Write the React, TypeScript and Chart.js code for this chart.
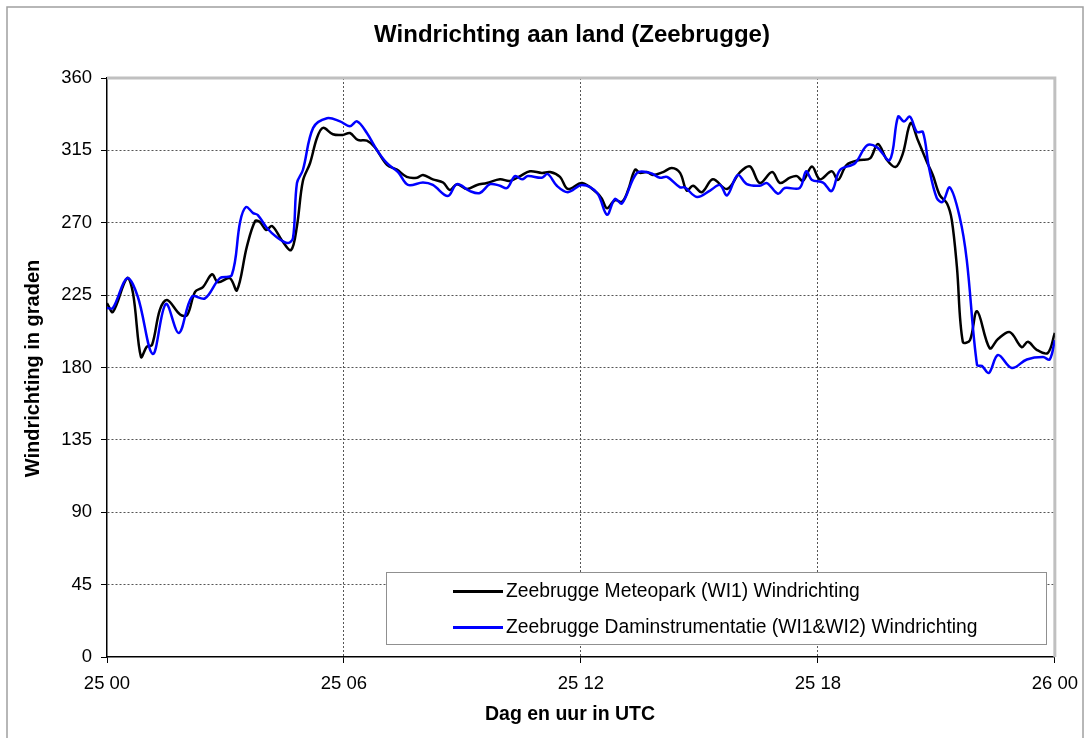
import React, { useEffect, useRef } from "react";
import { Chart, registerables } from "chart.js";

Chart.register(...registerables);

const chartTitle = "Windrichting aan land (Zeebrugge)";
const xAxisTitle = "Dag en uur in UTC";
const yAxisTitle = "Windrichting in graden";
const xTickLabels = ["25 00", "25 06", "25 12", "25 18", "26 00"];
const seriesNames = [
  "Zeebrugge Meteopark (WI1) Windrichting",
  "Zeebrugge Daminstrumentatie (WI1&WI2) Windrichting",
];

const meteoparkHours = [
  0.0, 0.15, 0.51, 0.66, 0.86, 1.01, 1.14, 1.34, 1.52, 1.85,
  2.03, 2.23, 2.43, 2.66, 2.81, 3.11, 3.29, 3.54, 3.75, 3.87,
  4.03, 4.18, 4.43, 4.66, 4.81, 4.96, 5.14, 5.32, 5.47, 5.72, 5.97,
  6.15, 6.35, 6.58, 6.78, 7.09, 7.34, 7.59, 7.85, 8.0, 8.25,
  8.51, 8.68, 8.86, 9.11, 9.37, 9.62, 9.95, 10.2, 10.46, 10.71,
  11.01, 11.22, 11.47, 11.67, 12.03, 12.41, 12.53, 12.66, 12.86, 13.04,
  13.19, 13.37, 13.49, 13.67, 13.82, 14.08, 14.3, 14.51, 14.68, 14.84,
  15.06, 15.34, 15.7, 16.03, 16.28, 16.53, 16.84, 17.04, 17.29, 17.47,
  17.62, 17.85, 18.05, 18.35, 18.51, 18.73, 19.06, 19.32, 19.52, 19.75,
  19.97, 20.15, 20.35, 20.53, 20.76, 20.91, 21.09, 21.27, 21.39, 21.52,
  21.67, 21.85, 22.03, 22.35, 22.56, 22.86, 23.16, 23.32, 23.54, 23.82,
  24.0,
];
const meteoparkValues = [
  220, 214.5, 235.6, 226, 186.5, 193, 194, 216, 222, 213,
  212.6, 227, 230, 238, 233, 235.6, 228, 255, 271, 270.5,
  265.5, 268, 259, 253, 268, 296, 307, 323, 329, 325, 324.6,
  325.8, 321.5, 321, 317, 306, 303, 298.5, 298, 299.7, 297,
  295, 290.4, 294, 291, 293.5, 294.7, 297, 296, 299, 302,
  301, 301.5, 298.5, 291, 294.7, 288.5, 285, 279, 284, 283,
  290, 303, 301, 301.5, 299.7, 301.5, 304, 301, 290, 293,
  289, 297, 291, 301.5, 305, 294.7, 301.5, 294.7, 298, 299,
  296, 305, 297, 302, 296.6, 306, 309, 310, 319, 309,
  304.7, 313, 332, 321.5, 307.8, 299.7, 287, 282, 271.7, 242.5,
  195.9, 197, 215, 192, 197.7, 202, 192.7, 196, 191, 189,
  201.5,
];

const damHours = [
  0.0, 0.15, 0.51, 0.78, 1.16, 1.49, 1.82, 2.15, 2.48, 2.86,
  3.16, 3.37, 3.52, 3.7, 3.82, 4.05, 4.3, 4.58, 4.71, 4.81,
  4.96, 5.22, 5.57, 5.9, 6.15, 6.33, 6.58, 6.84, 7.09, 7.37,
  7.62, 8.0, 8.25, 8.63, 8.86, 9.19, 9.44, 9.7, 9.95, 10.13,
  10.33, 10.51, 10.66, 11.01, 11.16, 11.39, 11.67, 12.03, 12.41, 12.66,
  12.86, 13.04, 13.42, 13.75, 14.0, 14.18, 14.51, 14.63, 14.94, 15.27,
  15.52, 15.7, 15.97, 16.2, 16.53, 16.71, 16.99, 17.16, 17.54, 17.7,
  17.85, 18.13, 18.35, 18.56, 18.94, 19.24, 19.49, 19.82, 20.03, 20.18,
  20.33, 20.51, 20.66, 20.81, 21.01, 21.16, 21.34, 21.59, 21.77, 22.03,
  22.15, 22.33, 22.56, 22.91, 23.29, 23.7, 23.87, 24.0,
];
const damValues = [
  217, 217, 235.6, 224, 188.4, 219.5, 201.5, 224, 223, 235.6,
  237.5, 270.5, 279.8, 276, 274.8, 266.7, 261, 257.4, 260.5, 294.7,
  302.8, 329, 335, 333, 330, 333, 325.8, 315, 307, 301.5,
  293.5, 295, 293.5, 286.6, 294, 289.7, 288.5, 294, 293, 291.6,
  299, 297, 299, 298, 300.3, 293, 289, 293.5, 288.5, 275,
  284.8, 282, 301, 301, 298, 298.5, 292, 292, 286, 290,
  293.5, 287, 299.7, 294, 293, 294.7, 288, 291.6, 291.6, 302,
  296.6, 295, 289.7, 302.8, 307, 318, 317, 309, 336, 333,
  336, 326.4, 326.4, 304.7, 285.4, 283, 292, 273.6, 246.8, 181.5,
  181, 176.6, 187.8, 179.7, 185, 186.5, 185, 197,
];

const FONT = "'Liberation Sans', Arial, sans-serif";
const seriesColors = ["#000000", "#0000FF"];

const framePlugin = {
  id: "frame",
  beforeDatasetsDraw(chart: any) {
    const { ctx, chartArea } = chart;
    ctx.save();
    ctx.strokeStyle = "#c0c0c0";
    ctx.lineWidth = 3;
    ctx.beginPath();
    ctx.moveTo(chartArea.left, chartArea.top);
    ctx.lineTo(chartArea.right, chartArea.top);
    ctx.lineTo(chartArea.right, chartArea.bottom);
    ctx.stroke();
    ctx.restore();
  },
  afterDraw(chart: any) {
    const { ctx, chartArea, width, height } = chart;
    ctx.save();
    // outer chart border
    ctx.strokeStyle = "#a0a0a0";
    ctx.lineWidth = 1.5;
    ctx.strokeRect(7, 7, width - 12, height + 20);
    // titles
    ctx.fillStyle = "#000";
    ctx.textAlign = "center";
    ctx.textBaseline = "middle";
    ctx.font = `bold 24px ${FONT}`;
    ctx.fillText(chartTitle, 572, 35);
    ctx.font = `bold 19.5px ${FONT}`;
    ctx.fillText(xAxisTitle, 570, 715);
    ctx.save();
    ctx.font = `bold 20px ${FONT}`;
    ctx.translate(33, (chartArea.top + chartArea.bottom) / 2 + 1);
    ctx.rotate(-Math.PI / 2);
    ctx.fillText(yAxisTitle, 0, 0);
    ctx.restore();
    // legend box
    const bx = 386.5, by = 572.5, bw = 660, bh = 72;
    ctx.fillStyle = "#fff";
    ctx.fillRect(bx, by, bw, bh);
    ctx.strokeStyle = "#909090";
    ctx.lineWidth = 1;
    ctx.strokeRect(bx, by, bw, bh);
    ctx.font = `19.3px ${FONT}`;
    ctx.textAlign = "left";
    seriesNames.forEach((name, i) => {
      const y = by + 19 + i * 36;
      ctx.strokeStyle = seriesColors[i];
      ctx.lineWidth = 3;
      ctx.beginPath();
      ctx.moveTo(453, y);
      ctx.lineTo(503, y);
      ctx.stroke();
      ctx.fillStyle = "#000";
      ctx.fillText(name, 506, y);
    });
    ctx.restore();
  },
};

export default function App() {
  const canvasRef = useRef<HTMLCanvasElement | null>(null);

  useEffect(() => {
    if (!canvasRef.current) return;
    const chart = new Chart(canvasRef.current, {
      type: "line",
      data: {
        datasets: [
          {
            label: seriesNames[0],
            data: meteoparkHours.map((h, i) => ({ x: h, y: meteoparkValues[i] })),
            borderColor: seriesColors[0],
            borderWidth: 2.5,
            pointRadius: 0,
            tension: 0.35,
            fill: false,
            order: 1,
          },
          {
            label: seriesNames[1],
            data: damHours.map((h, i) => ({ x: h, y: damValues[i] })),
            borderColor: seriesColors[1],
            borderWidth: 2.5,
            pointRadius: 0,
            tension: 0.35,
            fill: false,
            order: 0,
          },
        ],
      },
      options: {
        animation: false,
        responsive: false,
        devicePixelRatio: 1,
        events: [],
        layout: { padding: { left: 14, right: 33, top: 78, bottom: 10 } },
        plugins: {
          legend: { display: false },
          tooltip: { enabled: false },
          title: { display: false },
        },
        scales: {
          x: {
            type: "linear",
            min: 0,
            max: 24,
            afterFit: (s: any) => {
              s.height = 71;
            },
            ticks: {
              stepSize: 6,
              autoSkip: false,
              maxRotation: 0,
              padding: 10,
              color: "#000",
              font: { family: FONT, size: 18.5 },
              callback: (v: any) => xTickLabels[Math.round(Number(v) / 6)] ?? "",
            },
            grid: {
              color: (c: any) =>
                c.tick && (c.tick.value === 0 || c.tick.value === 24) ? "rgba(0,0,0,0)" : "#555",
              lineWidth: 1,
              tickLength: 6,
              tickColor: "#000",
              tickBorderDash: [],
            },
            border: { display: true, color: "#000", width: 1.5, dash: [2, 2] },
          },
          y: {
            min: 0,
            max: 360,
            afterFit: (s: any) => {
              s.width = 93;
            },
            ticks: {
              stepSize: 45,
              padding: 9,
              color: "#000",
              font: { family: FONT, size: 18.5 },
            },
            grid: {
              color: (c: any) =>
                c.tick && (c.tick.value === 0 || c.tick.value === 360) ? "rgba(0,0,0,0)" : "#555",
              lineWidth: 1,
              tickLength: 6,
              tickColor: "#000",
              tickBorderDash: [],
            },
            border: { display: true, color: "#000", width: 1.5, dash: [2, 2] },
          },
        },
      },
      plugins: [framePlugin],
    });
    return () => chart.destroy();
  }, []);

  return (
    <div style={{ position: "absolute", left: 0, top: 0, width: 1088, height: 738, background: "#fff" }}>
      <canvas ref={canvasRef} width={1088} height={738} style={{ display: "block" }} />
    </div>
  );
}
